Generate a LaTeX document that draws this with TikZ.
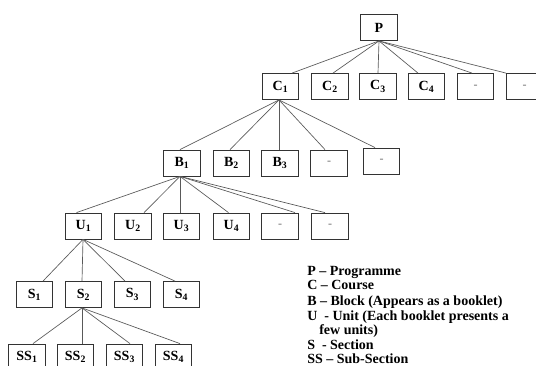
\documentclass[tikz,border=0pt]{standalone}
\usepackage{fontspec}
\setmainfont{Liberation Serif}
\usetikzlibrary{calc}
\begin{document}
\begin{tikzpicture}[x=0.75pt,y=-0.75pt,
  box/.style={draw=black!80,line width=0.6pt,minimum width=27.5pt,minimum height=19.5pt,inner sep=0pt,font=\fontsize{10.5}{12}\selectfont\bfseries,fill=white},
  dashbox/.style={box,font=\fontsize{9}{10}\selectfont,text=black!55},
  link/.style={draw=black!65,line width=0.5pt},
  leg/.style={anchor=base west,inner sep=0pt,font=\fontsize{10.5}{12}\selectfont\bfseries}]
\useasboundingbox (0,0) rectangle (536,365);
\fill[white] (0,0) rectangle (536,365);
\clip (0,0) rectangle (536,365);
% level P
\node[box] (P) at (379,27.5) {P};
% level C
\node[box] (C1) at (280.5,86.5) {C\textsubscript{1}};
\node[box] (C2) at (330,86.5) {C\textsubscript{2}};
\node[box] (C3) at (378,86.5) {C\textsubscript{3}};
\node[box] (C4) at (426.5,86.5) {C\textsubscript{4}};
\node[dashbox] (Cd1) at (475.5,86.5) {-};
\node[dashbox] (Cd2) at (524.5,86.5) {-};
% level B
\node[box] (B1) at (182,163) {B\textsubscript{1}};
\node[box] (B2) at (231.5,163) {B\textsubscript{2}};
\node[box] (B3) at (280,163) {B\textsubscript{3}};
\node[dashbox] (Bd1) at (329,163) {-};
\node[dashbox] (Bd2) at (381.5,161) {-};
% level U
\node[box] (U1) at (83.5,226) {U\textsubscript{1}};
\node[box] (U2) at (133,226) {U\textsubscript{2}};
\node[box] (U3) at (181.5,226) {U\textsubscript{3}};
\node[box] (U4) at (231.5,226) {U\textsubscript{4}};
\node[dashbox] (Ud1) at (280,226) {-};
\node[dashbox] (Ud2) at (330,226) {-};
% level S
\node[box] (S1) at (34.5,294.5) {S\textsubscript{1}};
\node[box] (S2) at (83.5,294.5) {S\textsubscript{2}};
\node[box] (S3) at (132.5,294.5) {S\textsubscript{3}};
\node[box] (S4) at (181.5,294.5) {S\textsubscript{4}};
% level SS
\node[box] (SS1) at (27,357) {SS\textsubscript{1}};
\node[box] (SS2) at (75.5,357) {SS\textsubscript{2}};
\node[box] (SS3) at (124.5,357) {SS\textsubscript{3}};
\node[box] (SS4) at (173.5,357) {SS\textsubscript{4}};
% connectors
\draw[link] (P.south) -- ($(C1.north)+(11.5,0)$);
\draw[link] (P.south) -- ($(C2.north)+(3,0)$);
\draw[link] (P.south) -- (C3.north);
\draw[link] (P.south) -- ($(C4.north)+(-8.5,0)$);
\draw[link] (P.south) -- ($(Cd1.north)+(-3.5,0)$);
\draw[link] (P.south) -- ($(Cd2.north)+(-18.5,0)$);
\draw[link] ($(C1.south)+(-1.5,0)$) -- ($(B1.north)+(-2,0)$);
\draw[link] ($(C1.south)+(-1.5,0)$) -- ($(B2.north)+(-1.5,0)$);
\draw[link] ($(C1.south)+(-1.5,0)$) -- ($(B3.north)+(-1,0)$);
\draw[link] ($(C1.south)+(-1.5,0)$) -- ($(Bd1.north)+(-4,0)$);
\draw[link] ($(C1.south)+(-1.5,0)$) -- ($(Bd2.north)+(-6.5,0)$);
\draw[link] ($(B1.south)+(-2,0)$) -- ($(U1.north)+(-7,0)$);
\draw[link] ($(B1.south)+(-2,0)$) -- ($(U2.north)+(11,0)$);
\draw[link] ($(B1.south)+(-2,0)$) -- ($(U3.north)+(-1.5,0)$);
\draw[link] ($(B1.south)+(-2,0)$) -- ($(U4.north)+(-3,0)$);
\draw[link] ($(B1.south)+(-2,0)$) -- ($(Ud1.north)+(15,0)$);
\draw[link] ($(B1.south)+(-2,0)$) -- ($(Ud2.north)+(-5,0)$);
\draw[link] ($(U1.south)+(-0.5,0)$) -- ($(S1.north)+(8.5,0)$);
\draw[link] ($(U1.south)+(-0.5,0)$) -- ($(S2.north)+(-1.5,0)$);
\draw[link] ($(U1.south)+(-0.5,0)$) -- ($(S3.north)+(-7.5,0)$);
\draw[link] ($(U1.south)+(-0.5,0)$) -- ($(S4.north)+(-6.5,0)$);
\draw[link] ($(S2.south)+(-1.5,0)$) -- ($(SS1.north)+(6,0)$);
\draw[link] ($(S2.south)+(-1.5,0)$) -- ($(SS2.north)+(6.5,0)$);
\draw[link] ($(S2.south)+(-1.5,0)$) -- ($(SS3.north)+(5.5,0)$);
\draw[link] ($(S2.south)+(-1.5,0)$) -- ($(SS4.north)+(6.5,0)$);
% legend
\node[leg] (L1) at (307,275) {P \textendash{} Programme};
\node[leg] (L2) at (307,289.5) {C \textendash{} Course};
\node[leg] (L3) at (307,305) {B \textendash{} Block (Appears as a booklet)};
\node[leg] (L4) at (307,320) {U\ \ - Unit (Each booklet presents a};
\node[leg] (L5) at (319,334) {few units)};
\node[leg] (L6) at (307,349) {S\ \ - Section};
\node[leg] (L7) at (307,363.5) {SS \textendash{} Sub-Section};
\end{tikzpicture}
\end{document}
